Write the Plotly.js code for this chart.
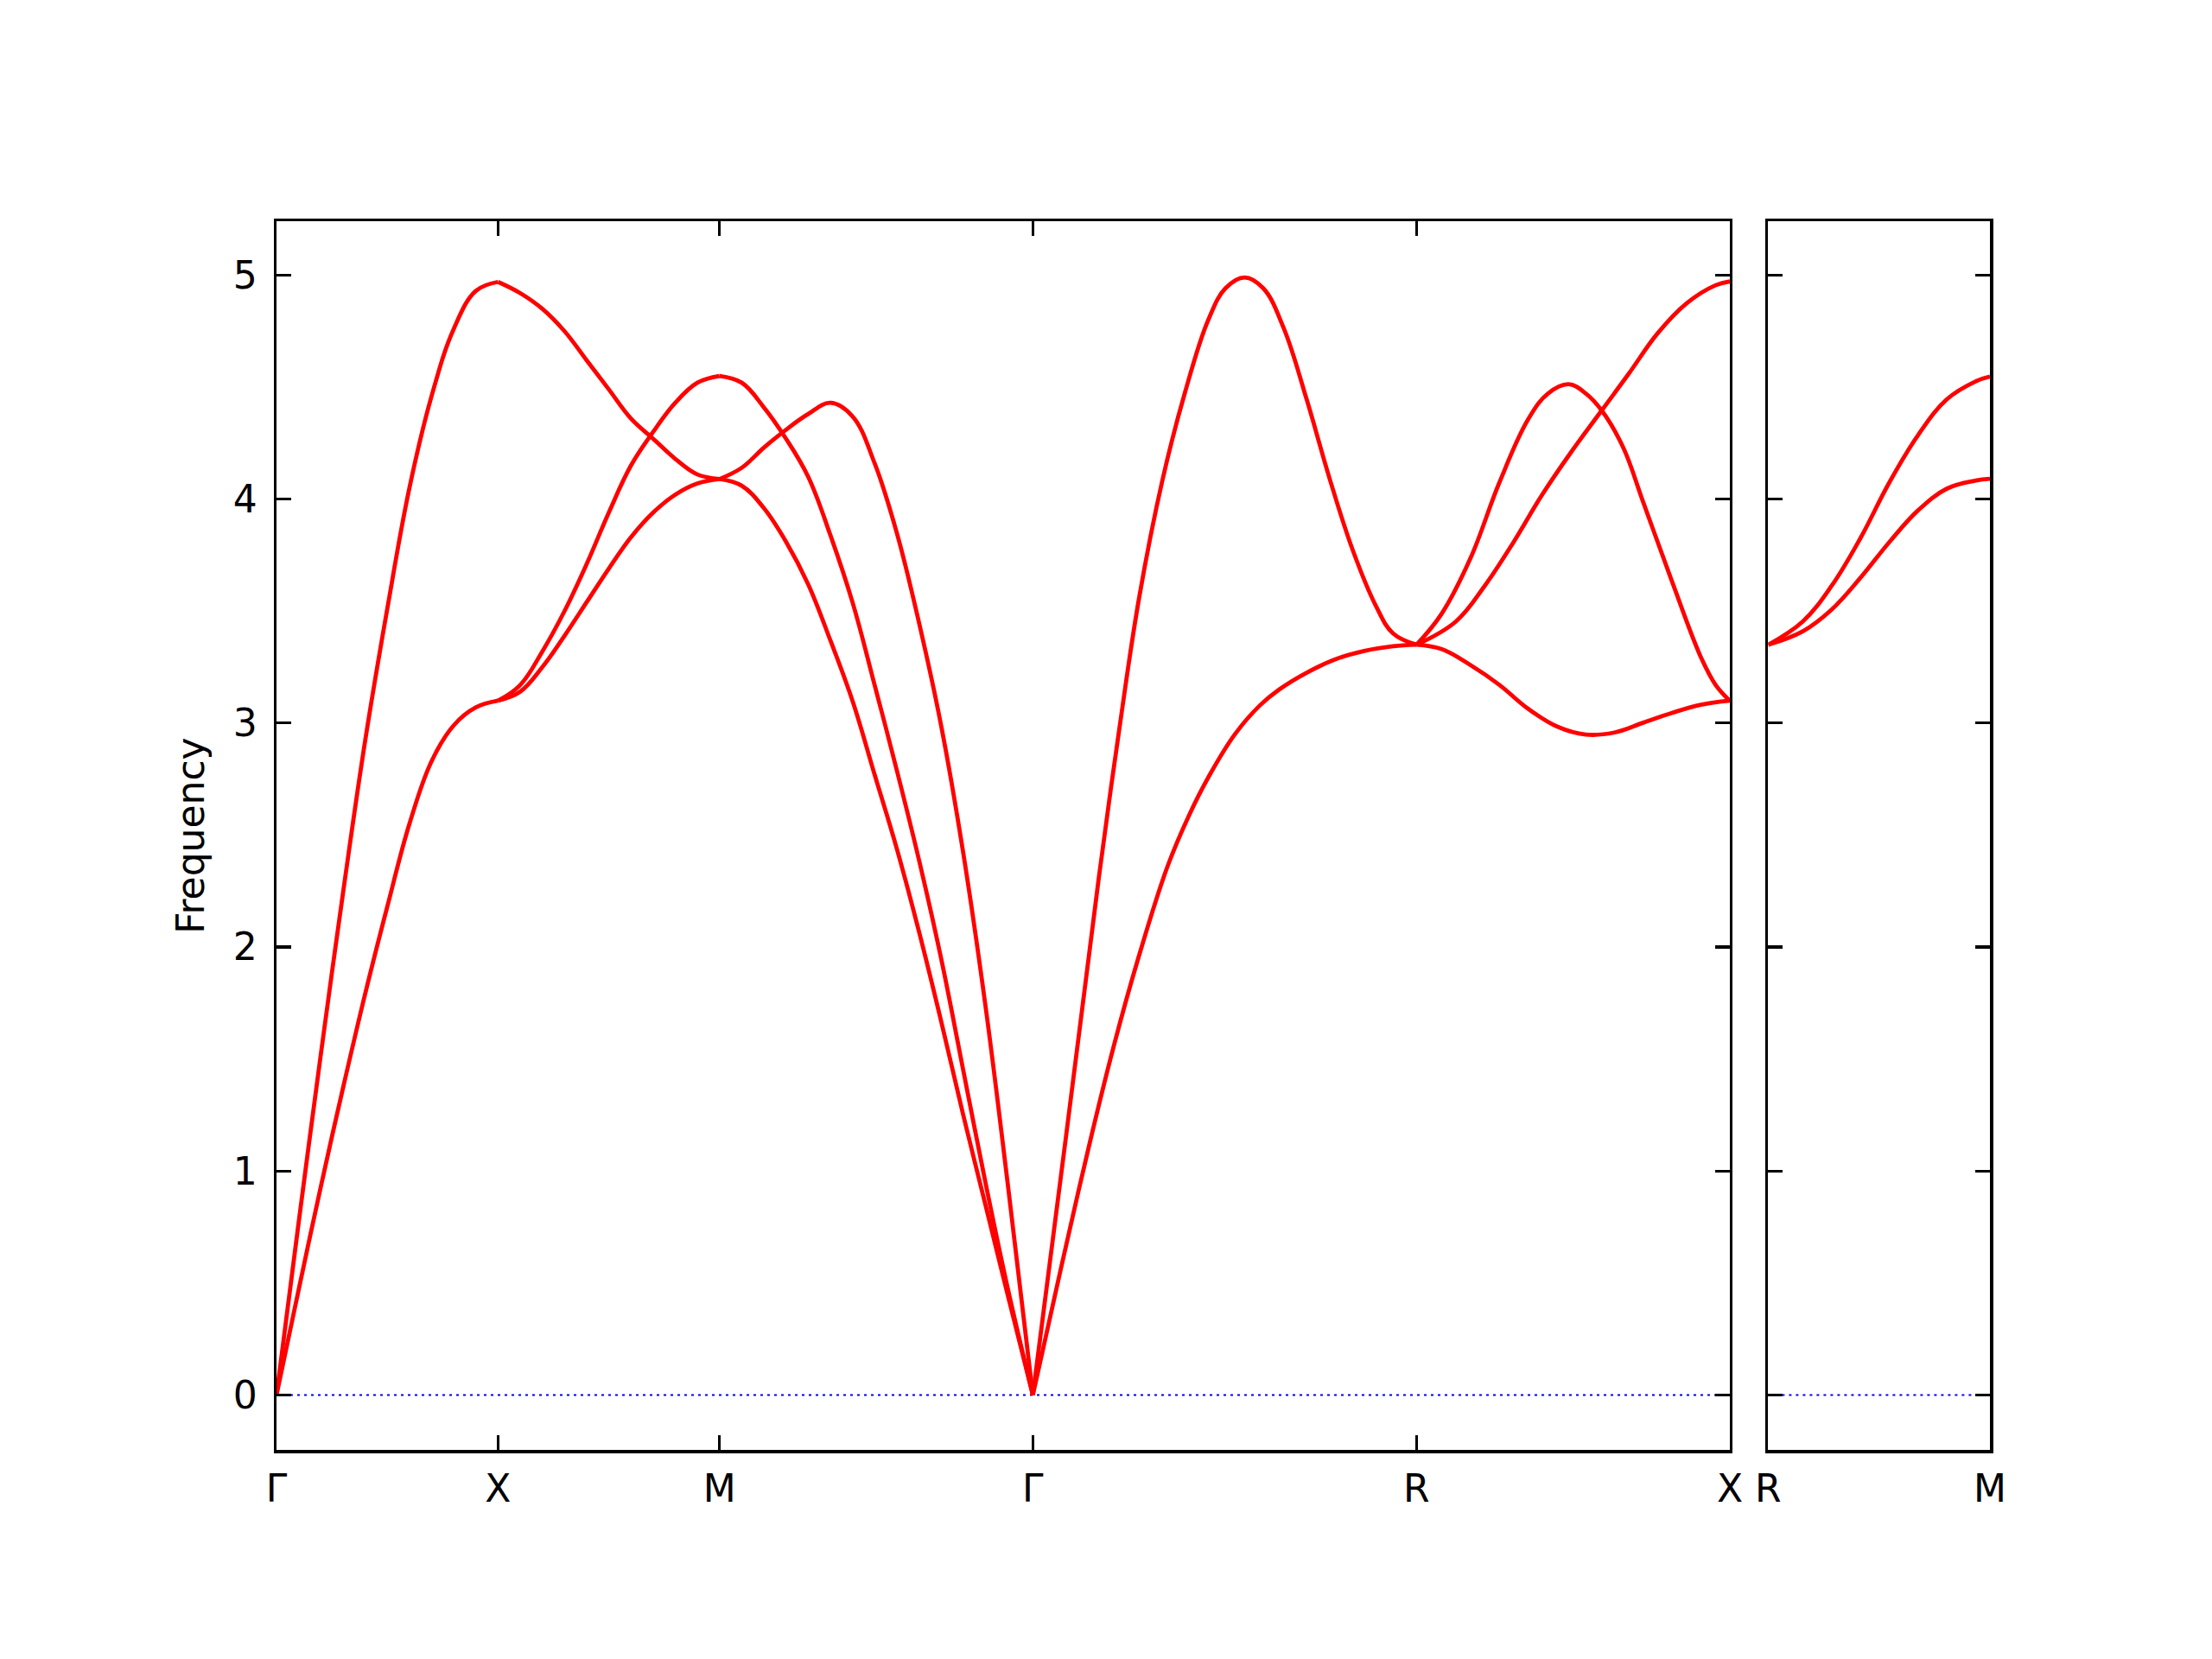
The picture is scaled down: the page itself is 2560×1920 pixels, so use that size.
<!DOCTYPE html>
<html>
<head>
<meta charset="utf-8">
<script src="https://cdn.plot.ly/plotly-3.0.1.min.js"></script>
<style>html,body{margin:0;padding:0;background:#fff;}</style>
</head>
<body>
<div id="chart" style="width:2560px;height:1920px;"></div>
<script>
// ---- high-symmetry path (k positions) and labels ----
const mainTickVals = [0, 0.5, 1.0, 1.7071, 2.5731, 3.2802];
const mainTickText = ['Γ', 'X', 'M', 'Γ', 'R', 'X'];
const sideTickVals = [0, 0.5];
const sideTickText = ['R', 'M'];
const yTickVals = [0, 1, 2, 3, 4, 5];

// ---- Γ–X ----
const kGX = [0, 0.05, 0.1, 0.15, 0.2, 0.25, 0.3, 0.35, 0.4, 0.45, 0.5];
const gxUpper = [0, 0.77, 1.52, 2.24, 2.92, 3.51, 4.05, 4.46, 4.76, 4.93, 4.97];
const gxLower = [0, 0.47, 0.93, 1.37, 1.79, 2.18, 2.55, 2.83, 2.99, 3.07, 3.10];

// ---- X–M ----
const kXM = [0.5, 0.55, 0.6, 0.65, 0.7, 0.75, 0.8, 0.85, 0.9, 0.95, 1.0];
const xmA = [4.97, 4.92, 4.85, 4.75, 4.62, 4.49, 4.36, 4.27, 4.18, 4.11, 4.09];
const xmB = [3.10, 3.17, 3.32, 3.50, 3.71, 3.94, 4.15, 4.30, 4.43, 4.52, 4.55];
const xmC = [3.10, 3.14, 3.25, 3.39, 3.54, 3.69, 3.83, 3.94, 4.02, 4.07, 4.09];

// ---- M–Γ ----
const kMG = [1.0, 1.05, 1.1, 1.15, 1.2, 1.25, 1.3, 1.35, 1.4, 1.45, 1.5, 1.55, 1.6, 1.65, 1.7071];
const mgA = [4.09, 4.14, 4.23, 4.31, 4.38, 4.43, 4.37, 4.16, 3.85, 3.45, 2.99, 2.42, 1.74, 0.95, 0];
const mgB = [4.55, 4.52, 4.41, 4.27, 4.10, 3.84, 3.54, 3.17, 2.79, 2.39, 1.95, 1.45, 0.95, 0.48, 0];
const mgC = [4.09, 4.06, 3.96, 3.81, 3.62, 3.37, 3.10, 2.77, 2.44, 2.07, 1.67, 1.25, 0.85, 0.45, 0];

// ---- Γ–R ----
const kGRUpper = [1.7071, 1.781, 1.856, 1.902, 1.947, 1.999, 2.051, 2.103, 2.142, 2.185, 2.227, 2.273, 2.325, 2.377, 2.429, 2.481, 2.520, 2.5731];
const grUpper = [0, 1.14, 2.31, 2.97, 3.56, 4.08, 4.48, 4.80, 4.942, 4.99, 4.942, 4.765, 4.446, 4.091, 3.773, 3.525, 3.401, 3.35];
const kGRLower = [1.7071, 1.771, 1.836, 1.890, 1.945, 2.011, 2.060, 2.1065, 2.163, 2.220, 2.263, 2.325, 2.390, 2.455, 2.520, 2.5731];
const grLower = [0, 0.57, 1.13, 1.56, 1.95, 2.36, 2.59, 2.77, 2.95, 3.08, 3.15, 3.225, 3.285, 3.322, 3.343, 3.35];

// ---- R–X ----
const kRXP = [2.5731, 2.630, 2.695, 2.760, 2.825, 2.870, 2.916, 2.955, 2.991, 3.039, 3.085, 3.150, 3.215, 3.248, 3.2802];
const rxP = [3.35, 3.489, 3.737, 4.074, 4.357, 4.472, 4.513, 4.472, 4.396, 4.233, 3.985, 3.631, 3.294, 3.171, 3.10];
const kRXQ = [2.5731, 2.662, 2.727, 2.792, 2.857, 2.922, 2.991, 3.052, 3.117, 3.183, 3.248, 3.2802];
const rxQ = [3.35, 3.454, 3.613, 3.808, 4.021, 4.21, 4.396, 4.56, 4.74, 4.875, 4.955, 4.972];
const kRXL = [2.5731, 2.630, 2.695, 2.760, 2.825, 2.890, 2.955, 3.020, 3.085, 3.150, 3.215, 3.2802];
const rxL = [3.35, 3.33, 3.259, 3.171, 3.064, 2.985, 2.949, 2.958, 3.002, 3.046, 3.082, 3.10];

// ---- R–M (side panel) ----
const kRM = [0, 0.078, 0.143, 0.208, 0.273, 0.338, 0.403, 0.468, 0.5];
const rmUpper = [3.35, 3.454, 3.613, 3.826, 4.074, 4.286, 4.446, 4.526, 4.547];
const rmLower = [3.35, 3.410, 3.507, 3.649, 3.808, 3.950, 4.047, 4.083, 4.091];

// ---- zero line ----
const zeroMainX = [0, 3.2802];
const zeroSideX = [0, 0.5];
const zeroY = [0, 0];

const RED = '#ff0000';
const redLine = {color: RED, width: 4.8, shape: 'spline', smoothing: 1.1};

function band(x, y, xa, ya) {
  return {x: x, y: y, type: 'scatter', mode: 'lines', line: redLine,
          xaxis: xa, yaxis: ya, hoverinfo: 'skip', showlegend: false};
}
function zero(x, xa, ya) {
  return {x: x, y: zeroY, type: 'scatter', mode: 'lines',
          line: {color: '#0000ff', width: 2, dash: '3px,5px'},
          xaxis: xa, yaxis: ya, hoverinfo: 'skip', showlegend: false};
}

const traces = [
  zero(zeroMainX, 'x', 'y'),
  zero(zeroSideX, 'x2', 'y2'),
  band(kGX, gxUpper, 'x', 'y'),
  band(kGX, gxLower, 'x', 'y'),
  band(kXM, xmA, 'x', 'y'),
  band(kXM, xmB, 'x', 'y'),
  band(kXM, xmC, 'x', 'y'),
  band(kMG, mgA, 'x', 'y'),
  band(kMG, mgB, 'x', 'y'),
  band(kMG, mgC, 'x', 'y'),
  band(kGRUpper, grUpper, 'x', 'y'),
  band(kGRLower, grLower, 'x', 'y'),
  band(kRXP, rxP, 'x', 'y'),
  band(kRXQ, rxQ, 'x', 'y'),
  band(kRXL, rxL, 'x', 'y'),
  band(kRM, rmUpper, 'x2', 'y2'),
  band(kRM, rmLower, 'x2', 'y2')
];

const FONT = {family: 'DejaVu Sans, sans-serif', size: 44, color: '#000'};
const yRange = [-0.245, 5.241];

const axisCommon = {
  showline: true, linecolor: '#000', linewidth: 3.5, mirror: 'allticks',
  ticks: 'inside', ticklen: 17, tickwidth: 3.2, tickcolor: '#000',
  showgrid: false, zeroline: false, tickfont: FONT, fixedrange: true
};

const layout = {
  width: 2560, height: 1920,
  paper_bgcolor: '#fff', plot_bgcolor: '#fff',
  margin: {l: 320, r: 257, t: 256, b: 242, pad: 0},
  showlegend: false,
  font: FONT,
  xaxis: Object.assign({}, axisCommon, {
    domain: [0, 0.8482], range: [0, 3.2802],
    tickmode: 'array', tickvals: mainTickVals, ticktext: mainTickText,
    ticklabelstandoff: 4, anchor: 'y'
  }),
  yaxis: Object.assign({}, axisCommon, {
    range: yRange, tickmode: 'array', tickvals: yTickVals,
    ticklabelstandoff: 10, anchor: 'x',
    title: {text: 'Frequency', font: FONT, standoff: 20}
  }),
  xaxis2: Object.assign({}, axisCommon, {
    domain: [0.8706, 1], range: [0, 0.5],
    tickmode: 'array', tickvals: sideTickVals, ticktext: sideTickText,
    ticklabelstandoff: 4, anchor: 'y2'
  }),
  yaxis2: Object.assign({}, axisCommon, {
    range: yRange, tickmode: 'array', tickvals: yTickVals,
    showticklabels: false, anchor: 'x2'
  })
};

Plotly.newPlot('chart', traces, layout, {staticPlot: true, displayModeBar: false});
</script>
</body>
</html>
